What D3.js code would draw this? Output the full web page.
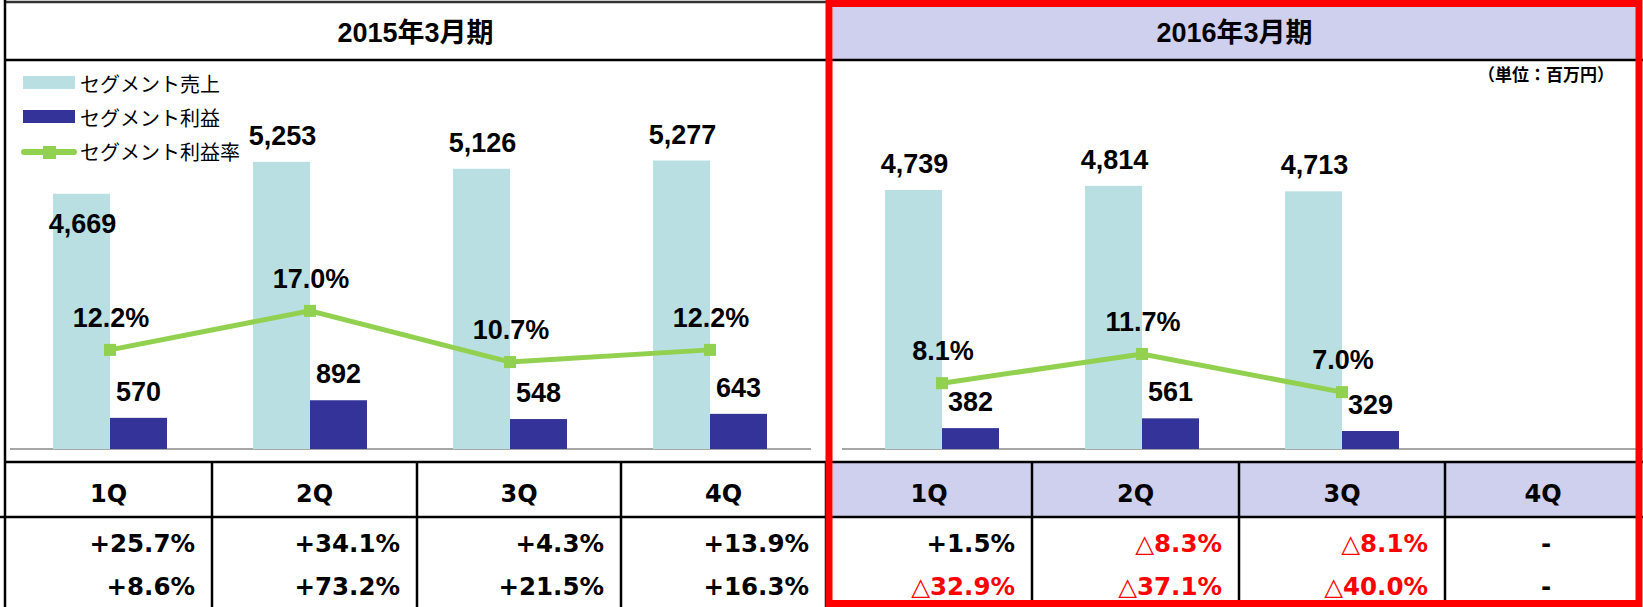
<!DOCTYPE html>
<html>
<head>
<meta charset="utf-8">
<script src="https://cdn.jsdelivr.net/npm/d3@7"></script>
<style>
  html, body { margin: 0; padding: 0; background: #ffffff; }
  svg { display: block; }
</style>
</head>
<body>
<svg id="chart" width="1643" height="607"></svg>
<script>
// ---------------- DATA ----------------
const quarters = ["1Q", "2Q", "3Q", "4Q"];
const periods = ["2015年3月期", "2016年3月期"];
const sales2015 = [4669, 5253, 5126, 5277];
const profit2015 = [570, 892, 548, 643];
const rate2015 = [12.2, 17.0, 10.7, 12.2];
const sales2016 = [4739, 4814, 4713];
const profit2016 = [382, 561, 329];
const rate2016 = [8.1, 11.7, 7.0];
const salesYoY2015 = ["+25.7%", "+34.1%", "+4.3%", "+13.9%"];
const profitYoY2015 = ["+8.6%", "+73.2%", "+21.5%", "+16.3%"];
const salesYoY2016 = ["+1.5%", "△8.3%", "△8.1%", "-"];
const profitYoY2016 = ["△32.9%", "△37.1%", "△40.0%", "-"];
const legendLabels = ["セグメント売上", "セグメント利益", "セグメント利益率"];
const unitLabel = "（単位：百万円）";

// ---------------- STYLE ----------------
const C_SALES = "#b9dfe3";
const C_PROFIT = "#333399";
const C_RATE = "#92d050";
const C_LAV = "#cfcfee";
const C_RED = "#ff0000";
const LABEL_FONT = "'Liberation Sans', Arial, 'Noto Sans CJK JP', sans-serif";
const TABLE_FONT = "'DejaVu Sans', Verdana, sans-serif";
const CJK_FONT = "'Noto Sans CJK JP', sans-serif";

const svg = d3.select("#chart");
svg.append("rect").attr("width", 1643).attr("height", 607).attr("fill", "#fff");

// ---------------- LAYOUT ----------------
const baseY = 449;
const ySales = d3.scaleLinear().domain([0, 6000]).range([baseY, 121]);
const yRate = d3.scaleLinear().domain([0, 40]).range([baseY, 124]);

const panels = [
  { x0: 10, x1: 810, sales: sales2015, profit: profit2015, rate: rate2015 },
  { x0: 842, x1: 1642, sales: sales2016, profit: profit2016, rate: rate2016 }
];

// table columns
const colEdges = [5, 212, 417, 621, 826, 1032, 1239, 1445, 1641];
const headTop = 2, headBot = 60, rowTop = 462, rowMid = 517;

// lavender fills (2016 side)
svg.append("rect").attr("x", 833).attr("y", 7).attr("width", 1636 - 833).attr("height", headBot - 7).attr("fill", C_LAV);
svg.append("rect").attr("x", 833).attr("y", rowTop).attr("width", 1636 - 833).attr("height", rowMid - rowTop).attr("fill", C_LAV);

// ---------------- CHARTS ----------------
const sLabelDy = [39, -17, -17, -17]; // baseline offset relative to sales bar top (1Q label sits inside bar)
panels.forEach((p, pi) => {
  const x = d3.scaleBand().domain(quarters).range([p.x0, p.x1]);
  const bw = x.bandwidth() * 0.285;
  const cx = q => x(q) + x.bandwidth() / 2;
  const qs = quarters.slice(0, p.sales.length);
  const g = svg.append("g");

  // baseline
  g.append("line").attr("x1", p.x0).attr("x2", p.x1 + 1).attr("y1", baseY).attr("y2", baseY)
    .attr("stroke", "#a6a6a6").attr("stroke-width", 2);

  // sales bars
  g.selectAll(".s").data(p.sales).join("rect")
    .attr("x", (d, i) => cx(qs[i]) - bw).attr("width", bw)
    .attr("y", d => ySales(d)).attr("height", d => baseY - ySales(d))
    .attr("fill", C_SALES);
  // profit bars
  g.selectAll(".p").data(p.profit).join("rect")
    .attr("x", (d, i) => cx(qs[i])).attr("width", bw)
    .attr("y", d => ySales(d)).attr("height", d => baseY - ySales(d))
    .attr("fill", C_PROFIT);

  // rate line
  const line = d3.line().x((d, i) => cx(qs[i])).y(d => yRate(d));
  g.append("path").datum(p.rate).attr("d", line).attr("fill", "none")
    .attr("stroke", C_RATE).attr("stroke-width", 5);
  g.selectAll(".m").data(p.rate).join("rect")
    .attr("x", (d, i) => cx(qs[i]) - 6).attr("y", d => yRate(d) - 6)
    .attr("width", 12).attr("height", 12).attr("fill", C_RATE);

  // labels
  const fmt = d3.format(",");
  g.selectAll(".sl").data(p.sales).join("text")
    .attr("x", (d, i) => cx(qs[i]) - bw / 2 + 1)
    .attr("y", (d, i) => ySales(d) + (pi === 0 ? sLabelDy[i] : -17))
    .attr("text-anchor", "middle").attr("font-family", LABEL_FONT).attr("font-weight", "bold")
    .attr("font-size", 27).attr("fill", "#000").text(d => fmt(d));
  g.selectAll(".pl").data(p.profit).join("text")
    .attr("x", (d, i) => cx(qs[i]) + bw / 2)
    .attr("y", d => ySales(d) - 17)
    .attr("text-anchor", "middle").attr("font-family", LABEL_FONT).attr("font-weight", "bold")
    .attr("font-size", 27).attr("fill", "#000").text(d => fmt(d));
  g.selectAll(".rl").data(p.rate).join("text")
    .attr("x", (d, i) => cx(qs[i]) + 1)
    .attr("y", d => yRate(d) - 23)
    .attr("text-anchor", "middle").attr("font-family", LABEL_FONT).attr("font-weight", "bold")
    .attr("font-size", 27).attr("fill", "#000").text(d => d.toFixed(1) + "%");
});

// ---------------- LEGEND ----------------
const lg = svg.append("g");
lg.append("rect").attr("x", 23).attr("y", 76).attr("width", 52).attr("height", 13).attr("fill", C_SALES);
lg.append("rect").attr("x", 23).attr("y", 110).attr("width", 52).attr("height", 13).attr("fill", C_PROFIT);
lg.append("line").attr("x1", 24).attr("x2", 74).attr("y1", 152).attr("y2", 152)
  .attr("stroke", C_RATE).attr("stroke-width", 6).attr("stroke-linecap", "round");
lg.append("rect").attr("x", 43).attr("y", 146).attr("width", 13).attr("height", 13).attr("fill", C_RATE);
lg.selectAll(".lt").data(legendLabels).join("text")
  .attr("x", 80).attr("y", (d, i) => 83 + i * 34)
  .attr("dominant-baseline", "central").attr("font-family", CJK_FONT)
  .attr("font-size", 20).attr("fill", "#000").text(d => d);

// unit label
svg.append("text").attr("x", 1614).attr("y", 73).attr("text-anchor", "end")
  .attr("dominant-baseline", "central").attr("font-family", CJK_FONT).attr("font-weight", "bold")
  .attr("font-size", 17).attr("fill", "#000").text(unitLabel);

// ---------------- HEADERS ----------------
svg.selectAll(".ht").data(periods).join("text")
  .attr("x", (d, i) => i === 0 ? (colEdges[0] + colEdges[4]) / 2 : (833 + 1636) / 2)
  .attr("y", 33).attr("text-anchor", "middle").attr("dominant-baseline", "central")
  .attr("font-family", "'Liberation Sans', 'Noto Sans CJK JP', sans-serif").attr("font-weight", "bold")
  .attr("font-size", 27).attr("fill", "#000").text(d => d);

// ---------------- TABLE ----------------
const allQ = quarters.concat(quarters);
const row1 = salesYoY2015.concat(salesYoY2016);
const row2 = profitYoY2015.concat(profitYoY2016);
const colCenter = i => (colEdges[i] + colEdges[i + 1]) / 2;

svg.selectAll(".qt").data(allQ).join("text")
  .attr("x", (d, i) => colCenter(i)).attr("y", 502)
  .attr("text-anchor", "middle").attr("font-family", TABLE_FONT).attr("font-weight", "bold")
  .attr("font-size", 24).attr("fill", "#000").text(d => d);

function valueRow(arr, y) {
  svg.append("g").selectAll("text").data(arr).join("text")
    .attr("x", (d, i) => d === "-" ? colCenter(i) + 3 : colEdges[i + 1] - 17)
    .attr("y", y)
    .attr("text-anchor", d => d === "-" ? "middle" : "end")
    .attr("font-family", TABLE_FONT).attr("font-weight", "bold").attr("font-size", 24.5)
    .attr("fill", d => d.startsWith("△") ? C_RED : "#000").text(d => d);
}
valueRow(row1, 552);
valueRow(row2, 595);

// table lines
const lines = svg.append("g").attr("stroke", "#000").attr("stroke-width", 2.5);
lines.append("line").attr("x1", colEdges[0]).attr("x2", 826).attr("y1", headTop).attr("y2", headTop).attr("stroke", "#333");
lines.append("line").attr("x1", colEdges[0]).attr("x2", 1643).attr("y1", headBot).attr("y2", headBot);
lines.append("line").attr("x1", colEdges[0]).attr("x2", 1643).attr("y1", rowTop).attr("y2", rowTop);
lines.append("line").attr("x1", 0).attr("x2", 1643).attr("y1", rowMid).attr("y2", rowMid);
lines.append("line").attr("x1", colEdges[0]).attr("x2", colEdges[0]).attr("y1", 0).attr("y2", 607);
colEdges.slice(1, 8).forEach(xx => {
  lines.append("line").attr("x1", xx).attr("x2", xx).attr("y1", rowTop).attr("y2", 607);
});

// red highlight frame
svg.append("rect").attr("x", 829).attr("y", 3.5).attr("width", 810).attr("height", 600)
  .attr("fill", "none").attr("stroke", C_RED).attr("stroke-width", 7);
</script>
</body>
</html>
